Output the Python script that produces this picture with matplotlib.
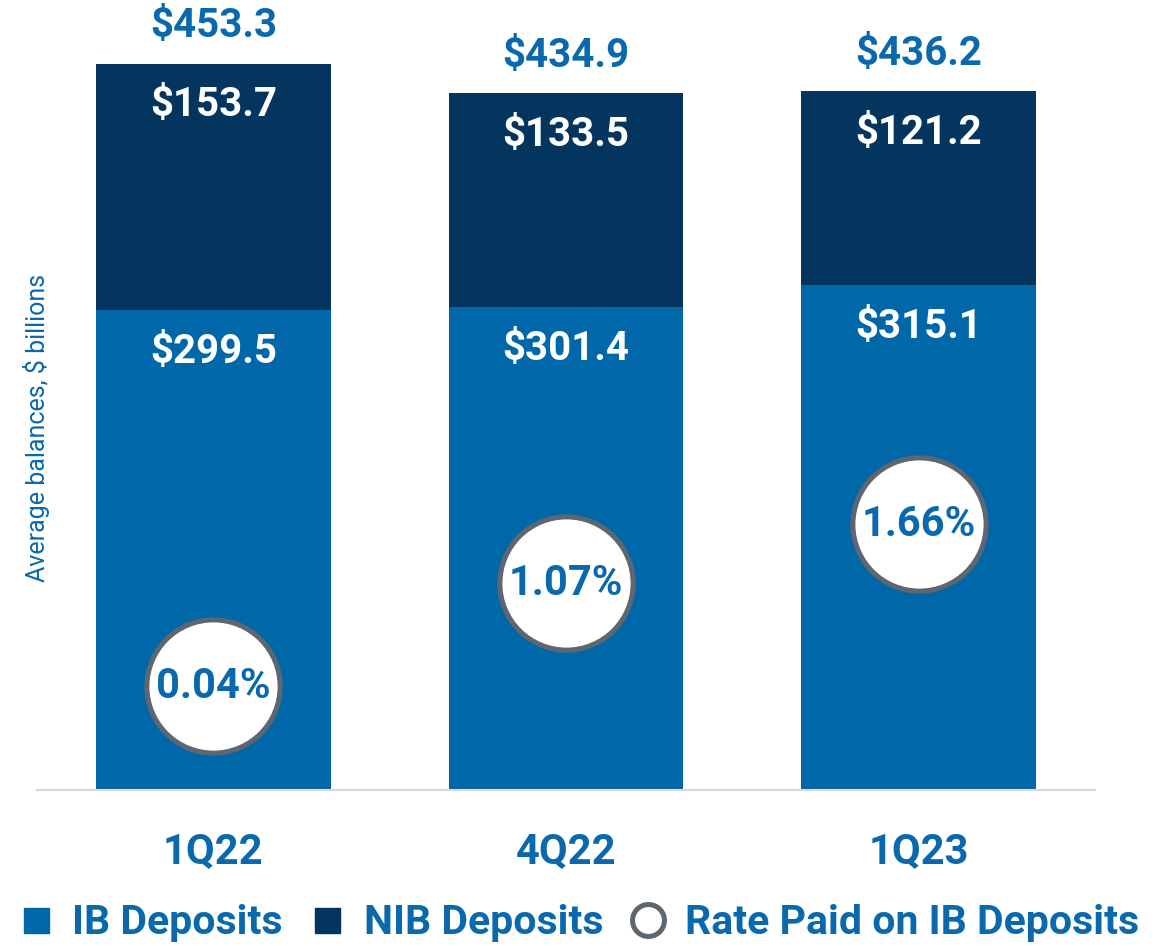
import numpy as np
import matplotlib
matplotlib.use("Agg")
import matplotlib.pyplot as plt
from matplotlib.lines import Line2D

# --- data ---
quarters = ["1Q22", "4Q22", "1Q23"]
ib_deposits = [299.5, 301.4, 315.1]
nib_deposits = [153.7, 133.5, 121.2]
total_deposits = [453.3, 434.9, 436.2]
rate_paid = [0.04, 1.07, 1.66]

# --- style ---
IB_COLOR = "#0068a9"
NIB_COLOR = "#04355f"
TEXT_BLUE = "#0a69ac"
RING_GRAY = "#5e6770"
FONT = "Roboto"

plt.rcParams['font.family'] = [FONT, 'DejaVu Sans']

fig = plt.figure(figsize=(11.58, 9.46), dpi=100)
ax = fig.add_axes([37 / 1158, 156 / 946, 1058 / 1158, 785 / 946])

x = np.arange(len(quarters))
bw = 0.666
ax.bar(x, ib_deposits, width=bw, color=IB_COLOR, zorder=2)
ax.bar(x, nib_deposits, width=bw, bottom=ib_deposits, color=NIB_COLOR, zorder=2)

ax.set_xlim(-0.5, 2.5)
ax.set_ylim(0, 490)

# segment labels, a fixed distance below each segment top
for i in range(len(quarters)):
    ax.annotate(f"${ib_deposits[i]:.1f}", (x[i], ib_deposits[i]), xytext=(0, -30),
                textcoords="offset points", ha="center", va="center",
                color="white", fontsize=29, fontweight="bold", zorder=4)
    ax.annotate(f"${nib_deposits[i]:.1f}", (x[i], total_deposits[i]), xytext=(0, -30),
                textcoords="offset points", ha="center", va="center",
                color="white", fontsize=29, fontweight="bold", zorder=4)
    ax.annotate(f"${total_deposits[i]:.1f}", (x[i], total_deposits[i]), xytext=(0, 27),
                textcoords="offset points", ha="center", va="center",
                color=TEXT_BLUE, fontsize=29, fontweight="bold", zorder=4)

# rate paid circles on a secondary scale
ax2 = ax.twinx()
ax2.set_ylim(-1.0, 6.85)
ax2.scatter(x, rate_paid, s=9200, facecolor="white", edgecolor=RING_GRAY,
            linewidth=3.6, zorder=3)
for i in range(len(quarters)):
    ax2.text(x[i], rate_paid[i], f"{rate_paid[i]:.2f}%", ha="center", va="center",
             color=TEXT_BLUE, fontsize=30, fontweight="bold", zorder=4)
ax2.set_axis_off()

for s in ["top", "right", "left"]:
    ax.spines[s].set_visible(False)
ax.spines["bottom"].set_color("#d9d9d9")
ax.spines["bottom"].set_linewidth(1.5)
ax.set_yticks([])
ax.set_xticks(x)
ax.set_xticklabels(quarters, color=TEXT_BLUE, fontsize=30, fontweight="bold")
ax.tick_params(axis="x", length=0, pad=30)

fig.text(37 / 1158, 1 - 428 / 946, "Average balances, $ billions", rotation=90,
         ha="center", va="center", color=TEXT_BLUE, fontsize=18)

handles = [
    Line2D([], [], marker="s", ls="", color=IB_COLOR, markersize=18),
    Line2D([], [], marker="s", ls="", color=NIB_COLOR, markersize=18),
    Line2D([], [], marker="o", ls="", markerfacecolor="white",
           markeredgecolor=RING_GRAY, markeredgewidth=3.6, markersize=23),
]
fig.legend(handles, ["IB Deposits", "NIB Deposits", "Rate Paid on IB Deposits"],
           loc="center", bbox_to_anchor=(0.5, 1 - 923 / 946), ncol=3, frameon=False,
           handlelength=0.8, handletextpad=0.5, columnspacing=0.68,
           borderpad=0, borderaxespad=0,
           prop={"family": FONT, "weight": "bold", "size": 29.5}, labelcolor=TEXT_BLUE)

fig.savefig("out.png", dpi=100)
